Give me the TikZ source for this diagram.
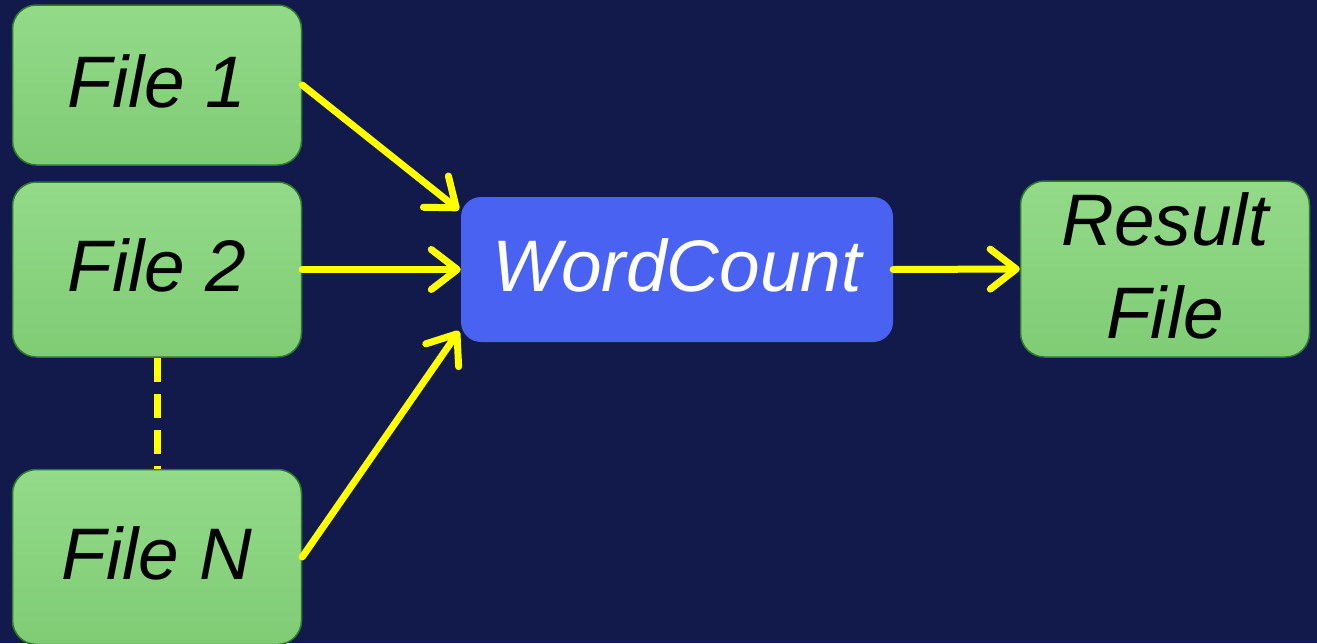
\documentclass[tikz,border=0pt]{standalone}
\usepackage{fontspec}
\setmainfont{Liberation Sans}
\usetikzlibrary{arrows.meta}
\definecolor{bgnavy}{HTML}{111A4A}
\definecolor{boxgreenT}{HTML}{93DA89}
\definecolor{boxgreenB}{HTML}{80CC75}
\definecolor{boxedge}{HTML}{2F7A2A}
\definecolor{wcblue}{HTML}{4A62F2}
\definecolor{arrowyellow}{HTML}{FFFF00}
\tikzset{
  filebox/.style={draw=boxedge, line width=1.5pt, rounded corners=24pt,
    top color=boxgreenT, bottom color=boxgreenB, minimum width=289pt, inner sep=0pt},
  wcbox/.style={fill=wcblue, rounded corners=20pt, minimum width=432pt, minimum height=145pt, inner sep=0pt},
  boxtext/.style={font=\fontsize{73}{93}\selectfont\itshape, align=center, inner sep=0pt, text=black},
  flow/.style={draw=arrowyellow, line width=7pt, line cap=round,
    -{Straight Barb[length=26pt, width=40pt, line width=7pt, round]}},
  dotline/.style={draw=arrowyellow, line width=7pt, dash pattern=on 24pt off 12pt}
}
\begin{document}
\begin{tikzpicture}[x=1pt, y=-1pt]
  \fill[bgnavy] (0,0) rectangle (1317,643);
  \useasboundingbox (0,0) rectangle (1317,643);
  \node[filebox, minimum height=160pt] (f1) at (157,85) {};
  \node[filebox, minimum height=175pt] (f2) at (157,269.5) {};
  \node[filebox, minimum height=175pt] (fn) at (157,557) {};
  \node[wcbox] (wc) at (677,269.5) {};
  \node[filebox, minimum height=176pt] (res) at (1165,269) {};
  \node[boxtext] (t1) at ([yshift=4pt]f1.center) {File 1};
  \node[boxtext] (t2) at ([yshift=4pt]f2.center) {File 2};
  \node[boxtext] (tn) at ([yshift=4pt]fn.center) {File N};
  \node[boxtext, text=white] (tw) at ([yshift=4pt]wc.center) {WordCount};
  \node[boxtext] (tr) at ([yshift=3pt]res.center) {Result\\File};
  \coordinate (wc1) at (459,210);
  \coordinate (wcn) at (459,331);
  \draw[flow] (f1.east) -- (wc1);
  \draw[flow] (f2.east) -- (wc.west);
  \draw[flow] (fn.east) -- (wcn);
  \draw[flow] (wc.east) -- (res.west);
  \draw[dotline] (f2.south) -- (fn.north);
\end{tikzpicture}
\end{document}
